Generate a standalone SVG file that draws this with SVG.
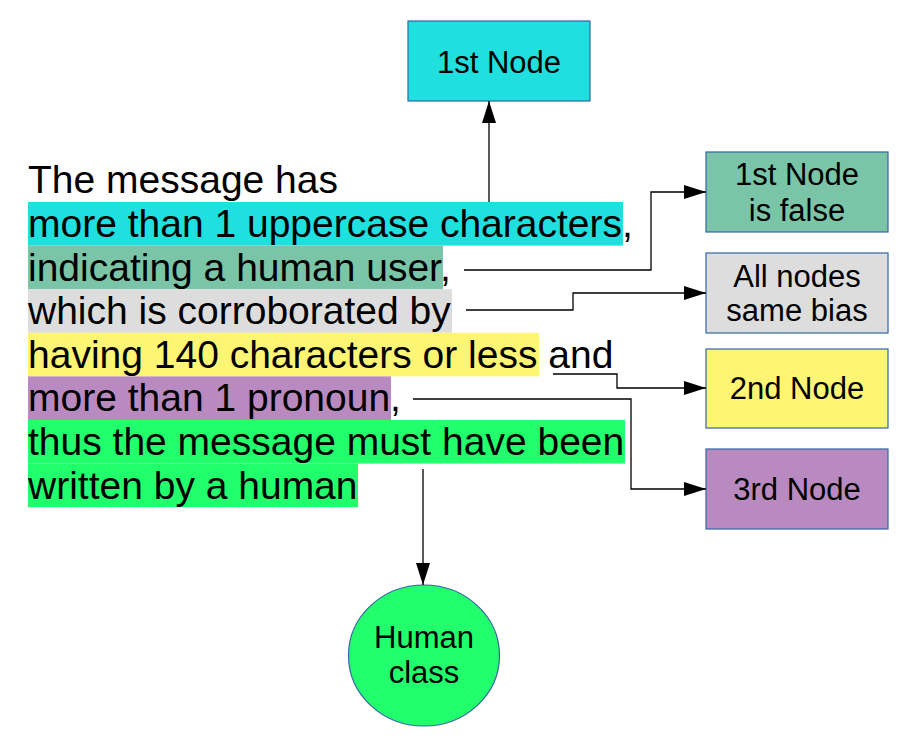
<svg xmlns="http://www.w3.org/2000/svg" width="907" height="756" viewBox="0 0 907 756">
<style>
.t{font-family:"Liberation Sans",Arial,sans-serif;font-size:39px;fill:#000}
.n{font-family:"Liberation Sans",Arial,sans-serif;font-size:31px;fill:#000;text-anchor:middle}
.box{stroke:#3465a4;stroke-width:1.2}
.c{fill:none;stroke:#000;stroke-width:1.3}
</style>
<defs>
<marker id="ah" markerUnits="userSpaceOnUse" markerWidth="22" markerHeight="14" refX="22" refY="7" orient="auto">
<path d="M0,0 L22,7 L0,14 z" fill="#000"/>
</marker>
</defs>
<rect width="907" height="756" fill="#fff"/>
<g id="message">
<rect x="28" y="202" width="595" height="43.6" fill="#1fdfdf"/>
<rect x="28" y="245.6" width="415" height="43.6" fill="#7ac5a7"/>
<rect x="28" y="289.2" width="424" height="43.6" fill="#dddddd"/>
<rect x="28" y="332.8" width="511" height="43.6" fill="#fff575"/>
<rect x="28" y="376.4" width="363" height="43.6" fill="#b98abf"/>
<rect x="28" y="420" width="597" height="43.6" fill="#22ff6c"/>
<rect x="28" y="463.6" width="330" height="43.6" fill="#22ff6c"/>
<text class="t" x="28" y="193.4">The message has</text>
<text class="t" x="28" y="237">more than 1 uppercase characters,</text>
<text class="t" x="28" y="280.6">indicating a human user,</text>
<text class="t" x="28" y="324.2">which is corroborated by</text>
<text class="t" x="28" y="367.8">having 140 characters or less and</text>
<text class="t" x="28" y="411.4">more than 1 pronoun,</text>
<text class="t" x="28" y="455">thus the message must have been</text>
<text class="t" x="28" y="498.6">written by a human</text>
</g>
<g id="node1">
<rect class="box" x="408" y="21" width="182" height="80" fill="#1fdfdf"/>
<text class="n" x="499" y="73">1st Node</text>
</g>
<g id="node1false">
<rect class="box" x="706" y="152" width="182" height="80" fill="#7ac5a7"/>
<text class="n" x="797" y="185">1st Node</text>
<text class="n" x="797" y="221">is false</text>
</g>
<g id="allnodes">
<rect class="box" x="706" y="253" width="182" height="80" fill="#dddddd"/>
<text class="n" x="797" y="287">All nodes</text>
<text class="n" x="797" y="321">same bias</text>
</g>
<g id="node2">
<rect class="box" x="706" y="349" width="182" height="79" fill="#fff575"/>
<text class="n" x="797" y="399">2nd Node</text>
</g>
<g id="node3">
<rect class="box" x="706" y="449" width="182" height="80" fill="#b98abf"/>
<text class="n" x="797" y="500">3rd Node</text>
</g>
<g id="human">
<ellipse class="box" cx="424" cy="655.5" rx="75.5" ry="70.5" fill="#22ff6c"/>
<text class="n" x="424" y="648">Human</text>
<text class="n" x="424" y="683">class</text>
</g>
<g id="connectors">
<path class="c" d="M489,202 V101" marker-end="url(#ah)"/>
<path class="c" d="M464,270 H651 V192 H706" marker-end="url(#ah)"/>
<path class="c" d="M466,310 H573 V293 H706" marker-end="url(#ah)"/>
<path class="c" d="M553,374 H617 V388 H706" marker-end="url(#ah)"/>
<path class="c" d="M413,399 H631 V489 H706" marker-end="url(#ah)"/>
<path class="c" d="M423,469 V585" marker-end="url(#ah)"/>
</g>
</svg>
